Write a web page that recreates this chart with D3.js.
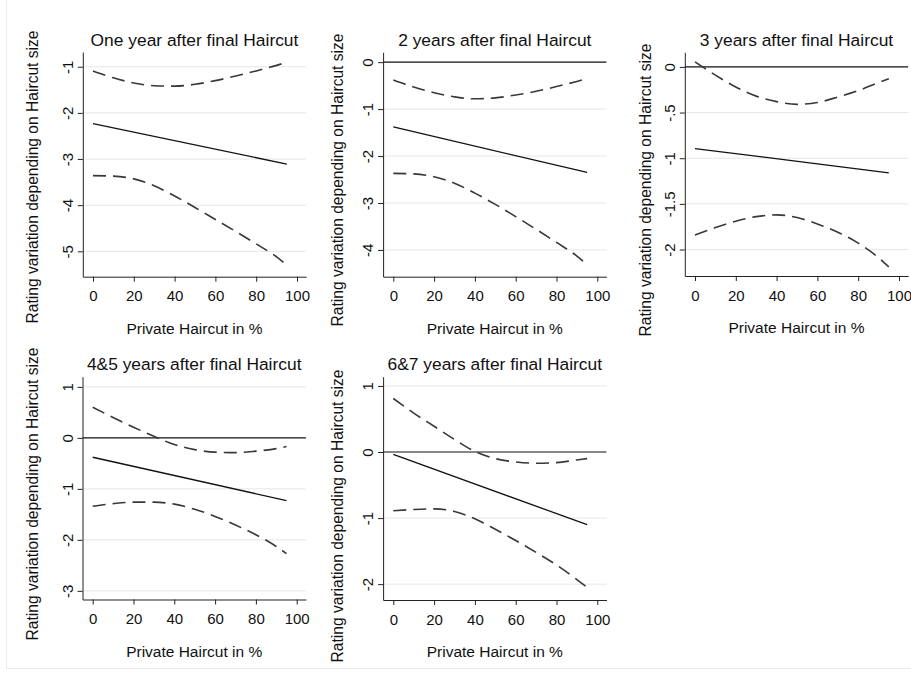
<!DOCTYPE html>
<html>
<head>
<meta charset="utf-8">
<script src="https://cdn.jsdelivr.net/npm/d3@7"></script>
<style>
  body { margin: 0; background: #fff; }
  svg { font-family: "Liberation Sans", Arial, sans-serif; }
</style>
</head>
<body>
<div id="chart"></div>
<script>
const W = 911, H = 675;

// x values (private haircut in %)
const haircut = [0, 10, 20, 30, 40, 50, 60, 70, 80, 90, 95];
const estX = [0, 95];
const xTicks = [0, 20, 40, 60, 80, 100];

const titles = [
  "One year after final Haircut",
  "2 years after final Haircut",
  "3 years after final Haircut",
  "4&5 years after final Haircut",
  "6&7 years after final Haircut"
];

// point estimate (straight line, endpoints)
const est1 = [-2.23, -3.11];
const est2 = [-1.38, -2.35];
const est3 = [-0.894, -1.16];
const est4 = [-0.38, -1.23];
const est5 = [-0.035, -1.10];

// upper confidence bound
const upper1 = [-1.09, -1.24, -1.35, -1.41, -1.42, -1.38, -1.30, -1.20, -1.09, -0.97, -0.90];
const upper2 = [-0.38, -0.53, -0.65, -0.74, -0.78, -0.76, -0.70, -0.62, -0.52, -0.41, -0.35];
const upper3 = [0.055, -0.09, -0.22, -0.32, -0.38, -0.41, -0.39, -0.33, -0.26, -0.17, -0.13];
const upper4 = [0.60, 0.40, 0.21, 0.03, -0.13, -0.23, -0.28, -0.29, -0.26, -0.21, -0.17];
const upper5 = [0.81, 0.59, 0.39, 0.19, 0.01, -0.10, -0.15, -0.17, -0.16, -0.12, -0.10];

// lower confidence bound
const lower1 = [-3.36, -3.37, -3.43, -3.58, -3.80, -4.05, -4.31, -4.57, -4.84, -5.12, -5.30];
const lower2 = [-2.37, -2.38, -2.44, -2.58, -2.79, -3.03, -3.29, -3.56, -3.84, -4.13, -4.31];
const lower3 = [-1.84, -1.76, -1.69, -1.64, -1.62, -1.65, -1.72, -1.81, -1.93, -2.09, -2.19];
const lower4 = [-1.34, -1.29, -1.26, -1.26, -1.30, -1.40, -1.54, -1.71, -1.90, -2.13, -2.27];
const lower5 = [-0.89, -0.87, -0.86, -0.90, -1.01, -1.17, -1.34, -1.52, -1.71, -1.93, -2.05];

const yTicks1 = [-1, -2, -3, -4, -5];
const yTicks2 = [0, -1, -2, -3, -4];
const yTicks3 = [0, -0.5, -1, -1.5, -2];
const yTicks4 = [1, 0, -1, -2, -3];
const yTicks5 = [1, 0, -1, -2];

const ests = [est1, est2, est3, est4, est5];
const uppers = [upper1, upper2, upper3, upper4, upper5];
const lowers = [lower1, lower2, lower3, lower4, lower5];
const yTickSets = [yTicks1, yTicks2, yTicks3, yTicks4, yTicks5];

// panel layout: where 0% sits, plot top/bottom, y range shown, y title position
const layout = [
  {x0: 93,    top: 52,    bottom: 276.7, ydom: [-5.55, -0.68], ytx: 32,  yty: 177},
  {x0: 393.3, top: 52.3,  bottom: 276.7, ydom: [-4.57, 0.21],  ytx: 337, yty: 180},
  {x0: 695,   top: 52.3,  bottom: 276,   ydom: [-2.29, 0.16],  ytx: 645, yty: 190},
  {x0: 92.7,  top: 376.7, bottom: 599.5, ydom: [-3.17, 1.20],  ytx: 32,  yty: 494},
  {x0: 393.3, top: 376.7, bottom: 600,   ydom: [-2.24, 1.14],  ytx: 337, yty: 516}
];

const svg = d3.select("#chart").append("svg")
    .attr("width", W)
    .attr("height", H);

svg.append("rect").attr("width", W).attr("height", H).attr("fill", "#fff");
// faint graph region border
svg.append("rect")
    .attr("x", 6.5).attr("y", -2)
    .attr("width", W).attr("height", 670.5)
    .attr("fill", "none")
    .attr("stroke", "#e6ecf0");

const fmt = d => {
    if (d === 0) return "0";
    return String(d).replace(/^(-?)0\./, "$1.");
};

layout.forEach(function(p, i) {
    const pxPerUnit = 2.04;
    const x = d3.scaleLinear()
        .domain([-5, 104.5])
        .range([p.x0 - 5 * pxPerUnit, p.x0 + 104.5 * pxPerUnit]);
    const y = d3.scaleLinear()
        .domain(p.ydom)
        .range([p.bottom, p.top]);

    const g = svg.append("g");
    const left = x.range()[0], right = x.range()[1];

    // grid lines
    g.selectAll(".grid")
        .data(yTickSets[i].filter(d => d !== 0))
        .enter().append("line")
        .attr("x1", left).attr("x2", right)
        .attr("y1", d => y(d)).attr("y2", d => y(d))
        .attr("stroke", "#e6e6e6")
        .attr("stroke-width", 1);

    // zero reference line
    if (p.ydom[0] < 0 && p.ydom[1] > 0) {
        g.append("line")
            .attr("x1", left).attr("x2", right)
            .attr("y1", y(0)).attr("y2", y(0))
            .attr("stroke", "#111")
            .attr("stroke-width", 1.1);
    }

    // x axis
    const xa = g.append("g")
        .attr("transform", `translate(0, ${p.bottom})`)
        .call(d3.axisBottom(x).tickValues(xTicks).tickSize(5).tickPadding(9).tickSizeOuter(0));
    xa.select(".domain").attr("stroke", "#222");
    xa.selectAll(".tick line").attr("stroke", "#222");
    xa.selectAll("text").attr("font-size", "15px").attr("fill", "#111")
        .style("font-family", "Liberation Sans, Arial, sans-serif");

    // y axis
    const ya = g.append("g")
        .attr("transform", `translate(${left}, 0)`)
        .call(d3.axisLeft(y).tickValues(yTickSets[i]).tickSize(5).tickFormat(fmt).tickSizeOuter(0));
    ya.select(".domain").attr("stroke", "#222");
    ya.selectAll(".tick line").attr("stroke", "#222");
    ya.selectAll("text")
        .attr("x", null).attr("dy", null)
        .attr("text-anchor", "middle")
        .attr("transform", "translate(-10,0) rotate(-90)")
        .attr("font-size", "15px").attr("fill", "#111")
        .style("font-family", "Liberation Sans, Arial, sans-serif");

    // confidence bounds
    const curve = d3.line()
        .x((d, k) => x(haircut[k]))
        .y(d => y(d))
        .curve(d3.curveMonotoneX);

    [uppers[i], lowers[i]].forEach(function(series) {
        g.append("path")
            .attr("d", curve(series))
            .attr("fill", "none")
            .attr("stroke", "#383838")
            .attr("stroke-width", 1.6)
            .attr("stroke-dasharray", "13,7");
    });

    // point estimate
    const straight = d3.line()
        .x((d, k) => x(estX[k]))
        .y(d => y(d));
    g.append("path")
        .attr("d", straight(ests[i]))
        .attr("fill", "none")
        .attr("stroke", "#111")
        .attr("stroke-width", 1.3);

    // titles
    g.append("text")
        .attr("x", (left + right) / 2)
        .attr("y", p.top - 6.5)
        .attr("text-anchor", "middle")
        .attr("font-size", "17.4px")
        .attr("fill", "#111")
        .text(titles[i]);

    g.append("text")
        .attr("x", (left + right) / 2)
        .attr("y", p.bottom + 57)
        .attr("text-anchor", "middle")
        .attr("font-size", "15.5px")
        .attr("fill", "#111")
        .text("Private Haircut in %");

    g.append("text")
        .attr("transform", `translate(${p.ytx + 5.5}, ${p.yty}) rotate(-90)`)
        .attr("text-anchor", "middle")
        .attr("font-size", "15.6px")
        .attr("fill", "#111")
        .text("Rating variation depending on Haircut size");
});
</script>
</body>
</html>
